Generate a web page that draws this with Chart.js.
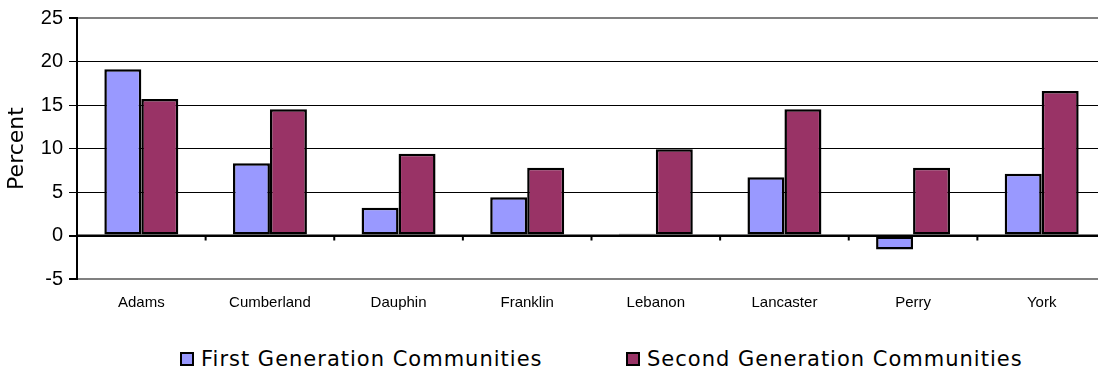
<!DOCTYPE html>
<html>
<head>
<meta charset="utf-8">
<script src="https://cdn.jsdelivr.net/npm/chart.js@4/dist/chart.umd.min.js"></script>
<style>
  body { margin: 0; background: #fff; overflow: hidden; }
  #wrap { position: relative; width: 1106px; height: 375px; }
  #legend { position: absolute; top: 346px; left: 0; width: 1106px; height: 26px; }
  .item { position: absolute; top: 0; display: flex; align-items: center; height: 26px;
          font-family: "DejaVu Sans", Verdana, sans-serif; font-size: 21px; letter-spacing: 1px; color: #000; }
  .box { width: 10px; height: 10px; border: 2px solid #000; margin-right: 7px; }
</style>
</head>
<body>
<div id="wrap">
  <canvas id="chart" width="1106" height="322"></canvas>
  <div id="legend"></div>
</div>
<script>
const counties = ["Adams", "Cumberland", "Dauphin", "Franklin", "Lebanon", "Lancaster", "Perry", "York"];
const firstGen = [19.1, 8.3, 3.2, 4.4, 0.2, 6.7, -1.6, 7.1];
const secondGen = [15.7, 14.5, 9.4, 7.8, 9.9, 14.5, 7.8, 16.6];
const seriesNames = ["First Generation Communities", "Second Generation Communities"];
const seriesColors = ["#9999FF", "#993366"];
const legendLeft = [180, 626];

// short tick marks on the zero line between categories
const zeroTicks = {
  id: "zeroTicks",
  afterDatasetsDraw(chart) {
    const { ctx, scales: { x, y } } = chart;
    const y0 = y.getPixelForValue(0);
    ctx.save();
    ctx.strokeStyle = "#000";
    ctx.lineWidth = 2;
    for (let i = 0; i < counties.length; i++) {
      const xp = x.getPixelForValue(i) + (x.getPixelForValue(1) - x.getPixelForValue(0)) / 2;
      ctx.beginPath();
      ctx.moveTo(xp, y0);
      ctx.lineTo(xp, y0 + 5);
      ctx.stroke();
    }
    ctx.beginPath();
    ctx.moveTo(chart.chartArea.left, y0);
    ctx.lineTo(chart.chartArea.right, y0);
    ctx.stroke();
    ctx.restore();
  },
};

new Chart(document.getElementById("chart"), {
  type: "bar",
  data: {
    labels: counties,
    datasets: [
      { label: seriesNames[0], data: firstGen, backgroundColor: seriesColors[0], borderColor: "#000", borderWidth: 2.5, borderSkipped: false },
      { label: seriesNames[1], data: secondGen, backgroundColor: seriesColors[1], borderColor: "#000", borderWidth: 2.5, borderSkipped: false },
    ],
  },
  options: {
    responsive: false,
    animation: false,
    layout: { padding: { top: 18, right: 0, bottom: 0, left: 0 } },
    datasets: { bar: { categoryPercentage: 0.575, barPercentage: 1.0 } },
    plugins: { legend: { display: false }, tooltip: { enabled: false } },
    scales: {
      x: {
        grid: { display: false },
        border: { display: false },
        ticks: {
          padding: 7,
          color: "#000",
          font: { family: "Liberation Sans, Arial", size: 15 },
        },
        afterFit(scale) { scale.height = 43; },
      },
      y: {
        min: -5,
        max: 25,
        ticks: {
          stepSize: 5,
          padding: 6,
          color: "#000",
          font: { family: "Liberation Sans, Arial", size: 20 },
        },
        grid: {
          tickLength: 8,
          tickColor: "#000",
          color: (c) => (c.tick && (c.tick.value === 25 || c.tick.value === -5) ? "#808080" : "#000"),
          lineWidth: (c) => (c.tick && (c.tick.value === 25 || c.tick.value === -5 || c.tick.value === 0) ? 2 : 1),
        },
        border: { color: "#000", width: 2 },
        title: {
          display: true,
          text: "Percent",
          color: "#000",
          padding: { top: 4, bottom: 0 },
          font: { family: "DejaVu Sans, Verdana", size: 22 },
        },
        afterFit(scale) { scale.width = 77; },
      },
    },
  },
  plugins: [zeroTicks],
});

const legend = document.getElementById("legend");
seriesNames.forEach((name, i) => {
  const item = document.createElement("div");
  item.className = "item";
  item.style.left = legendLeft[i] + "px";
  const box = document.createElement("span");
  box.className = "box";
  box.style.background = seriesColors[i];
  item.appendChild(box);
  item.appendChild(document.createTextNode(name));
  legend.appendChild(item);
});
</script>
</body>
</html>
